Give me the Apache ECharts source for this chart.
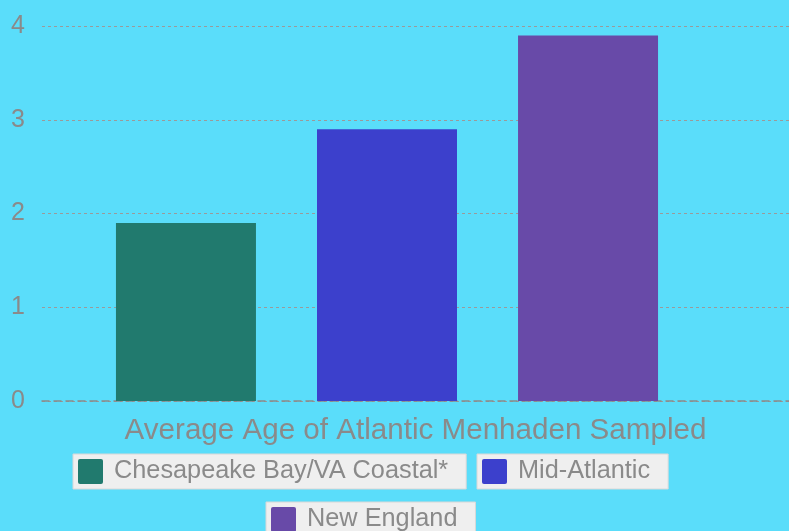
<!DOCTYPE html>
<html>
<head>
<meta charset="utf-8">
<script src="https://cdn.jsdelivr.net/npm/echarts@6/dist/echarts.min.js"></script>
<style>
html,body{margin:0;padding:0;background:#5addfa;}
#c{width:789px;height:531px;}
</style>
</head>
<body>
<div id="c"></div>
<script>
var categories = [''];
var axisName = 'Average Age of Atlantic Menhaden Sampled';
var seriesNames = ['Chesapeake Bay/VA Coastal*', 'Mid-Atlantic', 'New England'];
var chesapeakeValues = [1.9];
var midAtlanticValues = [2.9];
var newEnglandValues = [3.9];
var yTicks = [0, 1, 2, 3, 4];
var colors = ['#217a6e', '#3c40cc', '#684aa8'];

var seriesValues = [chesapeakeValues, midAtlanticValues, newEnglandValues];
var gray = '#8a8a8a';

var chart = echarts.init(document.getElementById('c'));
function legendFor(i, left, top) {
  return {
    left: left, top: top, orient: 'horizontal',
    data: [seriesNames[i]],
    icon: 'path://M2,0 L23,0 Q25,0 25,2 L25,23 Q25,25 23,25 L2,25 Q0,25 0,23 L0,2 Q0,0 2,0 Z',
    itemWidth: 25, itemHeight: 25,
    backgroundColor: '#efefef', borderColor: '#d8d8d8', borderWidth: 1, borderRadius: 0,
    padding: [5, 18, 5, 5],
    selectedMode: false,
    textStyle: { fontSize: 25.3, color: gray, fontFamily: 'Liberation Sans, Arial, sans-serif', padding: [3, 0, 0, 6] }
  };
}
chart.setOption({
  backgroundColor: '#5addfa',
  animation: false,
  color: colors,
  textStyle: { fontFamily: 'Liberation Sans, Arial, sans-serif' },
  grid: [
    { left: 42, right: -20, top: 26, bottom: 130, containLabel: false },
    { left: 42, width: 690, top: 26, bottom: 130, containLabel: false }
  ],
  legend: [legendFor(0, 73, 454), legendFor(1, 477, 454), legendFor(2, 266, 502)],
  xAxis: [
    {
      gridIndex: 0, type: 'category', data: categories,
      axisLine: { show: true, lineStyle: { color: gray, type: [7, 5], width: 1.5 } },
      axisTick: { show: false }, axisLabel: { show: false },
      name: axisName, nameLocation: 'middle', nameGap: 15,
      nameTextStyle: { fontSize: 29.6, color: gray, verticalAlign: 'top' }
    },
    {
      gridIndex: 1, type: 'category', data: categories, show: false
    }
  ],
  yAxis: [
    {
      gridIndex: 0, type: 'value', min: yTicks[0], max: yTicks[yTicks.length - 1], interval: 1,
      axisLine: { show: false }, axisTick: { show: false },
      axisLabel: { fontSize: 25, color: gray, margin: 17 },
      splitLine: { show: true, lineStyle: { color: '#9a9a9a', type: [3, 3], width: 1 } }
    },
    {
      gridIndex: 1, type: 'value', min: yTicks[0], max: yTicks[yTicks.length - 1], interval: 1,
      show: false, splitLine: { show: false }
    }
  ],
  series: seriesNames.map(function (n, i) {
    return {
      name: n, type: 'bar', xAxisIndex: 1, yAxisIndex: 1,
      data: seriesValues[i], barWidth: 140, barGap: '43.6%',
      itemStyle: { color: colors[i] }
    };
  })
});
</script>
</body>
</html>
